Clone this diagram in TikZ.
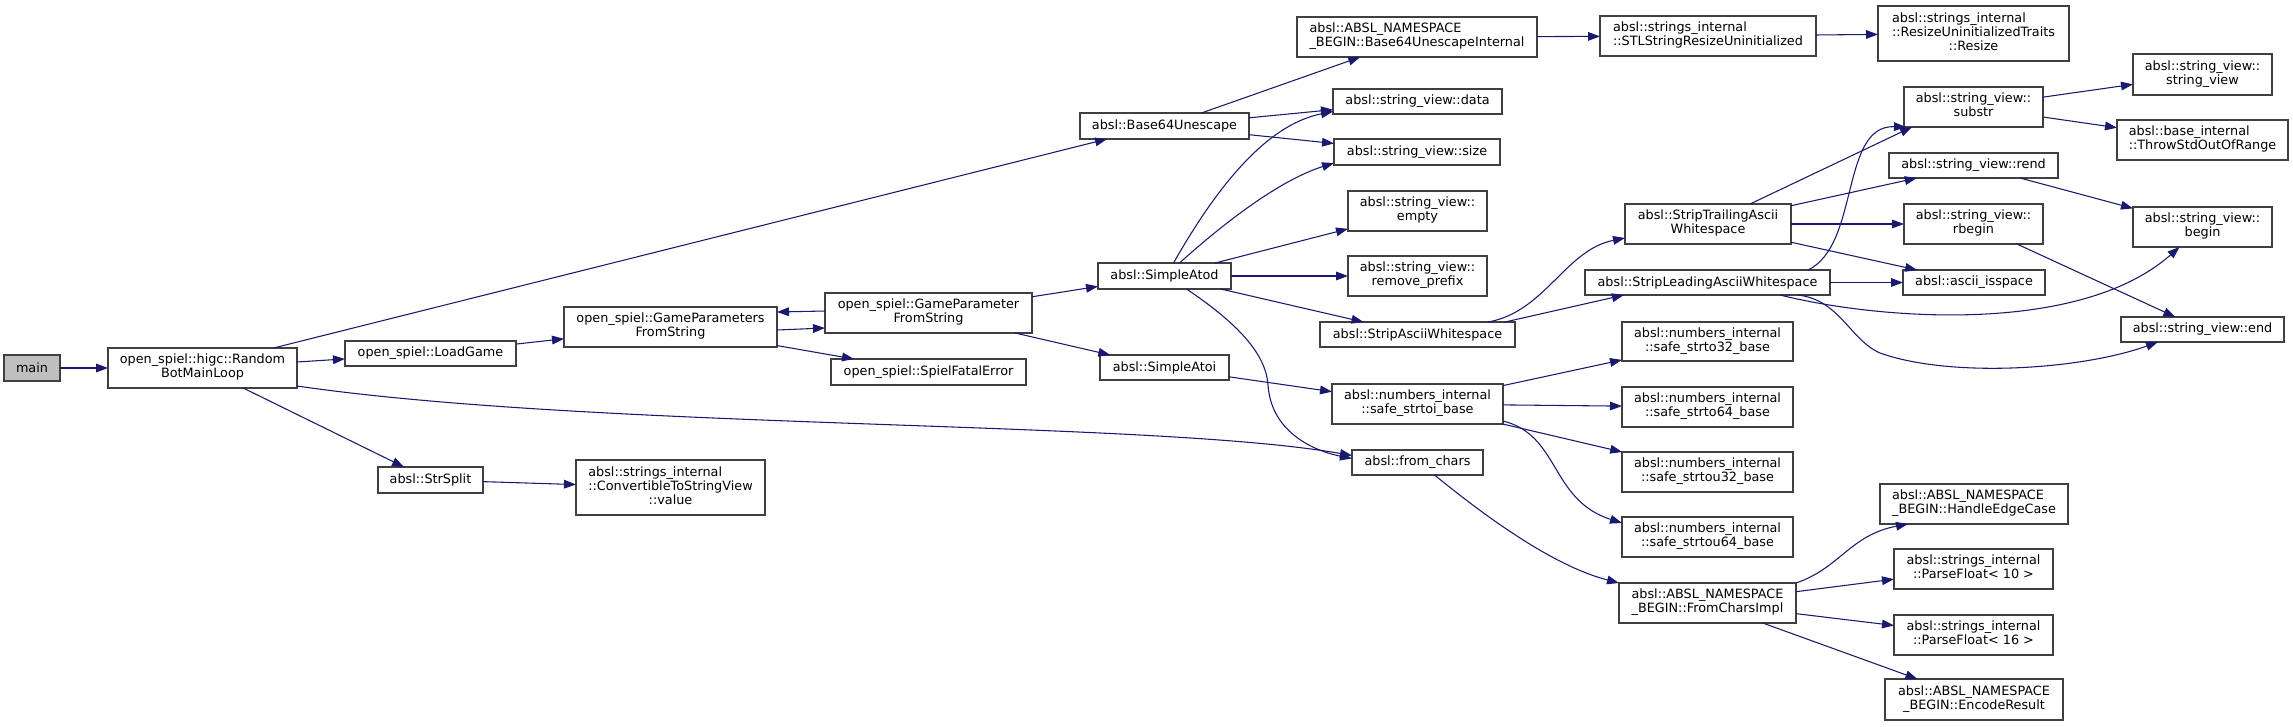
\documentclass[tikz,border=0pt]{standalone}
\usepackage{fontspec}
\setmainfont{DejaVu Sans}
\usetikzlibrary{arrows.meta,calc}
\newcommand\twol[2]{\begin{tabular}{@{}l@{}}#1\\\multicolumn{1}{@{}c@{}}{#2}\end{tabular}}
\newcommand\thrl[3]{\begin{tabular}{@{}l@{}}#1\\#2\\\multicolumn{1}{@{}c@{}}{#3}\end{tabular}}
\newcommand\bx[7][]{\node[box,#1,minimum width={(#5-#3)*0.75pt},minimum height={(#6-#4)*0.75pt}] (#2) at ({(#3+#5)/2},{(#4+#6)/2}) {#7};}
\definecolor{edgeblue}{HTML}{191970}
\definecolor{boxgray}{HTML}{404040}
\definecolor{mainfill}{HTML}{BFBFBF}
\begin{document}
\begin{tikzpicture}[x=0.75pt,y=-0.75pt,
  box/.style={draw=boxgray,line width=1pt,fill=white,inner sep=0pt,outer sep=0pt,anchor=center,font=\fontsize{9.6}{10.7}\selectfont},
  edge/.style={draw=edgeblue,line width=0.8pt,-{Triangle[length=9pt,width=6.5pt]}}]
\fill[white] (0,0) rectangle (2293,726);
\useasboundingbox (0,0) rectangle (2293,726);
% nodes
\bx[fill=mainfill]{main}{4}{355}{60}{381}{main}
\bx{rbml}{108}{348}{297}{388}{\twol{open\_spiel::higc::Random}{BotMainLoop}}
\bx{lg}{345}{341}{516}{366}{open\_spiel::LoadGame}
\bx{split}{378}{467}{483}{493}{absl::StrSplit}
\bx{gpfs}{564}{307}{777}{347}{\twol{open\_spiel::GameParameters}{FromString}}
\bx{conv}{576}{460}{765}{515}{\thrl{absl::strings\_internal}{::ConvertibleToStringView}{::value}}
\bx{gpf}{825}{293}{1032}{333}{\twol{open\_spiel::GameParameter}{FromString}}
\bx{sfe}{831}{359}{1026}{385}{open\_spiel::SpielFatalError}
\bx{b64}{1080}{113}{1249}{139}{absl::Base64Unescape}
\bx{sad}{1098}{263}{1231}{289}{absl::SimpleAtod}
\bx{sai}{1100}{355}{1229}{380}{absl::SimpleAtoi}
\bx{b64i}{1297}{17}{1537}{57}{\twol{absl::ABSL\_NAMESPACE}{\_BEGIN::Base64UnescapeInternal}}
\bx{data}{1333}{89}{1502}{114}{absl::string\_view::data}
\bx{size}{1334}{139}{1500}{165}{absl::string\_view::size}
\bx{empty}{1348}{191}{1487}{231}{\twol{absl::string\_view::}{empty}}
\bx{rmp}{1348}{256}{1487}{296}{\twol{absl::string\_view::}{remove\_prefix}}
\bx{saw}{1320}{322}{1515}{347}{absl::StripAsciiWhitespace}
\bx{sti}{1332}{384}{1503}{424}{\twol{absl::numbers\_internal}{::safe\_strtoi\_base}}
\bx{fc}{1352}{450}{1483}{475}{absl::from\_chars}
\bx{stl}{1600}{16}{1816}{56}{\twol{absl::strings\_internal}{::STLStringResizeUninitialized}}
\bx{stw}{1625}{204}{1791}{244}{\twol{absl::StripTrailingAscii}{Whitespace}}
\bx{slw}{1585}{270}{1830}{295}{absl::StripLeadingAsciiWhitespace}
\bx{s32}{1622}{322}{1793}{361}{\twol{absl::numbers\_internal}{::safe\_strto32\_base}}
\bx{s64}{1622}{387}{1793}{427}{\twol{absl::numbers\_internal}{::safe\_strto64\_base}}
\bx{su32}{1622}{452}{1793}{492}{\twol{absl::numbers\_internal}{::safe\_strtou32\_base}}
\bx{su64}{1622}{517}{1793}{557}{\twol{absl::numbers\_internal}{::safe\_strtou64\_base}}
\bx{fci}{1619}{583}{1796}{623}{\twol{absl::ABSL\_NAMESPACE}{\_BEGIN::FromCharsImpl}}
\bx{rsz}{1878}{6}{2069}{61}{\thrl{absl::strings\_internal}{::ResizeUninitializedTraits}{::Resize}}
\bx{substr}{1904}{87}{2043}{127}{\twol{absl::string\_view::}{substr}}
\bx{rend}{1889}{153}{2058}{178}{absl::string\_view::rend}
\bx{rbegin}{1904}{204}{2043}{244}{\twol{absl::string\_view::}{rbegin}}
\bx{isspace}{1903}{270}{2045}{295}{absl::ascii\_isspace}
\bx{hec}{1880}{484}{2068}{524}{\twol{absl::ABSL\_NAMESPACE}{\_BEGIN::HandleEdgeCase}}
\bx{pf10}{1894}{549}{2053}{589}{\twol{absl::strings\_internal}{::ParseFloat< 10 >}}
\bx{pf16}{1894}{615}{2053}{655}{\twol{absl::strings\_internal}{::ParseFloat< 16 >}}
\bx{enc}{1885}{679}{2063}{720}{\twol{absl::ABSL\_NAMESPACE}{\_BEGIN::EncodeResult}}
\bx{sv}{2133}{54}{2272}{95}{\twol{absl::string\_view::}{string\_view}}
\bx{throw}{2117}{120}{2288}{160}{\twol{absl::base\_internal}{::ThrowStdOutOfRange}}
\bx{begin}{2133}{207}{2272}{247}{\twol{absl::string\_view::}{begin}}
\bx{end}{2121}{317}{2284}{342}{absl::string\_view::end}
% edges
\draw[edge] (main) -- (rbml);
\draw[edge] ($(rbml.north)+(71,0)$) -- ($(b64.south west)+(27,0)$);
\draw[edge] (rbml) -- (lg);
\draw[edge] ($(rbml.south east)+(0,-2)$) .. controls (600,430) and (1150,420) .. ($(fc.west)+(0,-7)$);
\draw[edge] (rbml) -- (split);
\draw[edge] (lg) -- (gpfs);
\draw[edge] ($(gpf.west)+(0,-2)$) -- ($(gpfs.east)+(0,-15)$);
\draw[edge] ($(gpfs.east)+(0,3)$) -- ($(gpf.west)+(0,15)$);
\draw[edge] (gpfs) -- (sfe);
\draw[edge] (split) -- (conv);
\draw[edge] (gpf) -- (sad);
\draw[edge] (gpf) -- (sai);
\draw[edge] (b64) -- (b64i);
\draw[edge] (b64) -- (data);
\draw[edge] (b64) -- (size);
\draw[edge] ($(sad.north)+(9,0)$) .. controls (1215,190) and (1265,125) .. ($(data.west)+(0,10)$);
\draw[edge] ($(sad.north)+(15,0)$) .. controls (1225,222) and (1280,180) .. ($(size.south west)+(0,-2)$);
\draw[edge] (sad) -- (empty);
\draw[edge] (sad) -- (rmp);
\draw[edge] (sad) -- (saw);
\draw[edge] ($(sad.south)+(22,0)$) .. controls (1240,325) and (1266,355) .. (1268,385) .. controls (1271,430) and (1310,450) .. ($(fc.west)+(0,-4)$);
\draw[edge] (sai) -- (sti);
\draw[edge] (b64i) -- (stl);
\draw[edge] (stl) -- (rsz);
\draw[edge] ($(saw.north east)+(-27,0)$) .. controls (1545,312) and (1565,250) .. ($(stw.west)+(0,14)$);
\draw[edge] ($(saw.north east)+(-10,0)$) -- ($(slw.south west)+(39,0)$);
\draw[edge] (stw) -- ($(substr.south west)+(8,0)$);
\draw[edge] (stw) -- (rend);
\draw[edge] (stw) -- (rbegin);
\draw[edge] (stw) -- (isspace);
\draw[edge] ($(slw.north east)+(-22,0)$) .. controls (1860,245) and (1840,125) .. ($(substr.south west)+(2,0)$);
\draw[edge] (slw) -- (isspace);
\draw[edge] ($(slw.south east)+(-50,0)$) .. controls (1880,320) and (2080,335) .. ($(begin.south)+(-23,0)$);
\draw[edge] ($(slw.south east)+(-32,0)$) .. controls (1840,300) and (1850,340) .. (1880,353) .. controls (1950,378) and (2080,370) .. ($(end.south west)+(37,0)$);
\draw[edge] (substr) -- (sv);
\draw[edge] (substr) -- (throw);
\draw[edge] (rend) -- (begin);
\draw[edge] (rbegin) -- (end);
\draw[edge] (sti) -- (s32);
\draw[edge] (sti) -- (s64);
\draw[edge] (sti) -- (su32);
\draw[edge] ($(sti.south east)+(0,-3)$) .. controls (1560,435) and (1550,500) .. ($(su64.west)+(0,-14)$);
\draw[edge] ($(fc.south)+(17,0)$) .. controls (1480,512) and (1550,565) .. (fci.north west);
\draw[edge] (fci.north east) .. controls (1840,568) and (1850,535) .. ($(hec.south west)+(28,0)$);
\draw[edge] (fci) -- (pf10);
\draw[edge] (fci) -- (pf16);
\draw[edge] (fci) -- (enc);
\end{tikzpicture}
\end{document}
